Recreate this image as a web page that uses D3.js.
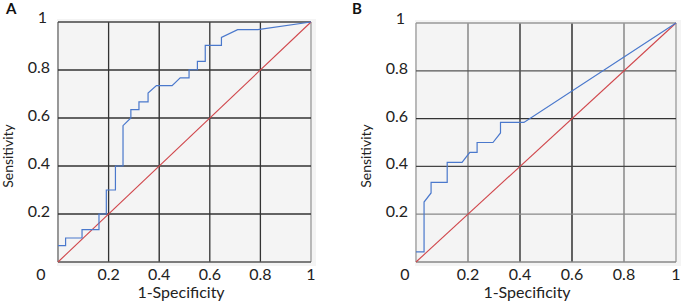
<!DOCTYPE html>
<html>
<head>
<meta charset="utf-8">
<script src="https://cdn.jsdelivr.net/npm/d3@7"></script>
<style>
body { margin: 0; background: #fff; }
svg { font-family: Lato, "Open Sans", sans-serif; }
</style>
</head>
<body>
<div id="chart"></div>
<script>
// ROC curve A: [1-specificity, sensitivity]
var rocA = [
    [0, 0.068], [0.03, 0.068], [0.03, 0.1], [0.095, 0.1], [0.095, 0.135],
    [0.162, 0.135], [0.162, 0.2], [0.191, 0.2], [0.191, 0.3], [0.227, 0.3],
    [0.227, 0.4], [0.257, 0.4], [0.257, 0.568], [0.288, 0.6], [0.288, 0.635],
    [0.32, 0.635], [0.32, 0.667], [0.356, 0.667], [0.356, 0.704], [0.389, 0.735],
    [0.451, 0.735], [0.483, 0.767], [0.518, 0.767], [0.518, 0.801], [0.551, 0.801],
    [0.551, 0.836], [0.582, 0.836], [0.582, 0.903], [0.646, 0.903], [0.646, 0.936],
    [0.71, 0.968], [0.79, 0.968], [1, 1]
]
// ROC curve B
var rocB = [
    [0, 0.042], [0.031, 0.042], [0.031, 0.251], [0.058, 0.289], [0.058, 0.333],
    [0.12, 0.333], [0.12, 0.417], [0.177, 0.417], [0.207, 0.459], [0.235, 0.459],
    [0.235, 0.5], [0.296, 0.5], [0.325, 0.54], [0.325, 0.584], [0.415, 0.584],
    [1, 1]
]
var chance = [[0, 0], [1, 1]]
var ticks = [0, 0.2, 0.4, 0.6, 0.8, 1]
var tickLabels = ['0', '0.2', '0.4', '0.6', '0.8', '1']

var svg = d3.select('#chart')
    .append('svg')
    .attr('width', 684)
    .attr('height', 305)

var panels = [
    {letter: 'A', data: rocA, left: 58, right: 311, top: 22, bottom: 262, lx: 6, zeroOff: 17, titleX: 181,
     vShade: ['#666', '#333', '#222', '#333', '#333', '#999'],
     hShade: ['#555', '#333', '#333', '#333', '#333', '#444']},
    {letter: 'B', data: rocB, left: 416, right: 676, top: 23, bottom: 262, lx: 352, zeroOff: 11, titleX: 527,
     vShade: ['#999', '#777', '#222', '#111', '#777', '#999'],
     hShade: ['#888', '#888', '#444', '#333', '#555', '#999']}
]

panels.forEach(function(p) {
    var g = svg.append('g')

    var x = d3.scaleLinear().domain([0, 1]).range([p.left, p.right])
    var y = d3.scaleLinear().domain([0, 1]).range([p.bottom, p.top])

    g.append('rect')
        .attr('x', p.left - 1)
        .attr('y', p.top - 3)
        .attr('width', p.right - p.left + 6)
        .attr('height', p.bottom - p.top + 7)
        .style('fill', '#f4f4f4')

    // grid
    g.selectAll('.vgrid')
        .data(ticks)
        .enter()
        .append('line')
        .attr('x1', function(d){return x(d)})
        .attr('x2', function(d){return x(d)})
        .attr('y1', y(0))
        .attr('y2', y(1))
        .style('stroke', function(d, i){return p.vShade[i]})
        .style('stroke-width', 1.3)

    g.selectAll('.hgrid')
        .data(ticks)
        .enter()
        .append('line')
        .attr('y1', function(d){return y(d)})
        .attr('y2', function(d){return y(d)})
        .attr('x1', x(0))
        .attr('x2', x(1))
        .style('stroke', function(d, i){return p.hShade[i]})
        .style('stroke-width', 1.3)

    var line = d3.line()
        .x(function(d){return x(d[0])})
        .y(function(d){return y(d[1])})

    g.append('path')
        .datum(chance)
        .attr('d', line)
        .style('fill', 'none')
        .style('stroke', '#d0464b')
        .style('stroke-width', 1.1)

    g.append('path')
        .datum(p.data)
        .attr('d', line)
        .style('fill', 'none')
        .style('stroke', '#4a78cc')
        .style('stroke-width', 1.2)

    // x tick labels
    g.selectAll('.xlab')
        .data(ticks)
        .enter()
        .append('text')
        .attr('x', function(d){return d == 0 ? x(d) - p.zeroOff : x(d)})
        .attr('y', p.bottom + 18)
        .attr('text-anchor', 'middle')
        .style('font-size', '16px')
        .style('fill', '#222')
        .text(function(d, i){return tickLabels[i]})

    // y tick labels (0 is shared with x)
    g.selectAll('.ylab')
        .data(ticks.slice(1))
        .enter()
        .append('text')
        .attr('x', function(d){return d == 1 ? p.left - 11 : p.left - 8})
        .attr('y', function(d){return d == 1 ? y(d) + 1 : y(d) + 3})
        .attr('text-anchor', 'end')
        .style('font-size', '16px')
        .style('fill', '#222')
        .text(function(d, i){return tickLabels[i + 1]})

    g.append('text')
        .attr('x', p.titleX)
        .attr('y', p.bottom + 36)
        .attr('text-anchor', 'middle')
        .style('font-size', '16px')
        .style('fill', '#222')
        .text('1-Specificity')

    g.append('text')
        .attr('transform', 'translate(' + (p.left - 45) + ',156) rotate(-90)')
        .attr('text-anchor', 'middle')
        .style('font-size', '14px')
        .style('fill', '#222')
        .text('Sensitivity')

    g.append('text')
        .attr('x', p.lx)
        .attr('y', 14)
        .style('font-size', '15px')
        .style('font-weight', 'bold')
        .style('fill', '#111')
        .text(p.letter)
})
</script>
</body>
</html>
